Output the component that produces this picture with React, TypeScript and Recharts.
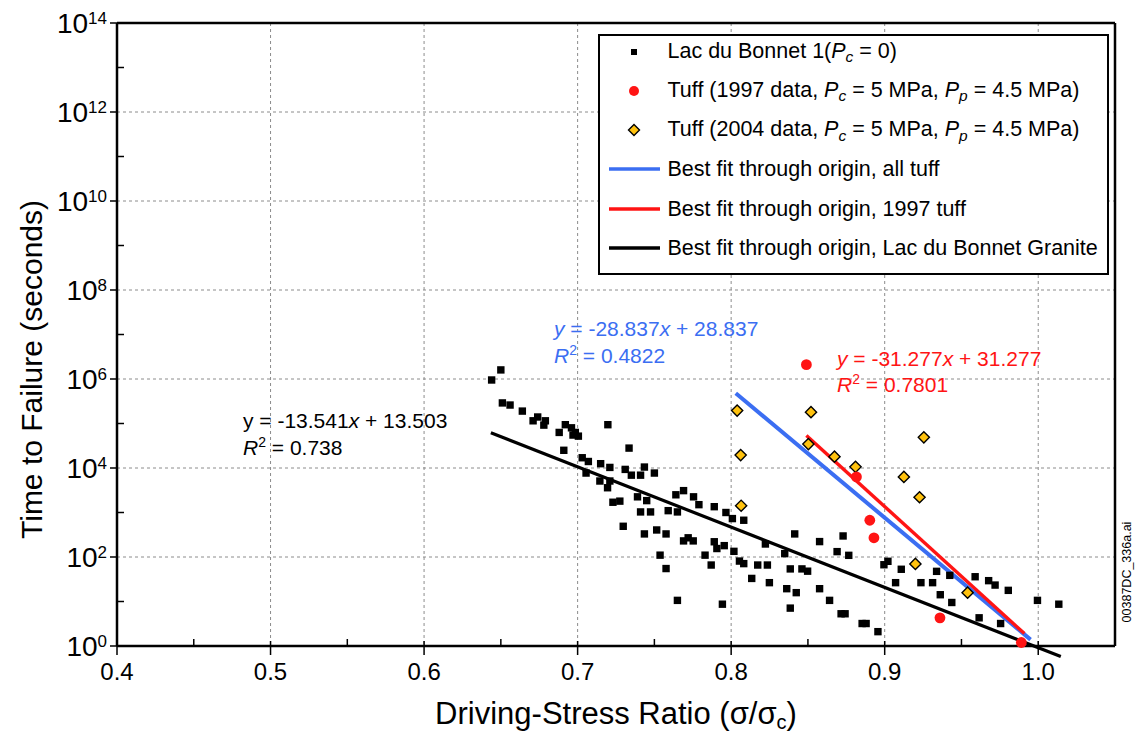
import React from 'react';
import {
  ComposedChart,
  Scatter,
  XAxis,
  YAxis,
  CartesianGrid,
  ReferenceLine,
  Legend,
} from 'recharts';

const FONT = '"Liberation Sans", Arial, Helvetica, sans-serif';
const BLUE = '#3b6ef2';
const RED = '#ff1414';
const GOLD = '#ffc20e';

// axis ticks
const xMajor = [0.4, 0.5, 0.6, 0.7, 0.8, 0.9, 1.0];
const xTicks = [0.4, 0.45, 0.5, 0.55, 0.6, 0.65, 0.7, 0.75, 0.8, 0.85, 0.9, 0.95, 1.0, 1.05];
const xGrid = [0.5, 0.6, 0.7, 0.8, 0.9, 1.0];
const yTicks = [1, 1e1, 1e2, 1e3, 1e4, 1e5, 1e6, 1e7, 1e8, 1e9, 1e10, 1e11, 1e12, 1e13, 1e14];
const yGrid = [1e2, 1e4, 1e6, 1e8, 1e10, 1e12];
const xMax = 1.05;
const yMax = 1e14;

// Lac du Bonnet granite, Pc = 0  [stress ratio, seconds]
const lacDuBonnet: [number, number][] = [
  [0.644, 9.5e5], [0.650, 1.6e6], [0.651, 2.9e5], [0.656, 2.6e5], [0.664, 1.9e5],
  [0.671, 1.15e5], [0.674, 1.4e5], [0.678, 9.2e4], [0.679, 1.15e5], [0.688, 6.3e4],
  [0.691, 2.5e4], [0.692, 9.4e4], [0.696, 8.0e4], [0.697, 5.5e4], [0.6985, 6.3e4],
  [0.7005, 5.2e4], [0.703, 1.7e4], [0.7055, 7.7e3], [0.707, 1.4e4], [0.7145, 5.1e3],
  [0.715, 1.25e4], [0.7195, 3.6e3], [0.7197, 9.4e4], [0.721, 1.03e4], [0.721, 5.1e3],
  [0.723, 1.7e3], [0.7275, 1.8e3], [0.7297, 490], [0.731, 9.3e3], [0.7335, 2.8e4],
  [0.735, 6.9e3], [0.739, 2.25e3], [0.741, 6.9e3], [0.741, 1.03e3], [0.7435, 1.05e4],
  [0.7435, 330], [0.745, 1.85e3], [0.7475, 1.03e3], [0.750, 7.7e3], [0.7515, 405],
  [0.7537, 110], [0.7576, 330], [0.7576, 55], [0.759, 1.1e3], [0.764, 2.5e3],
  [0.765, 1.03e3], [0.765, 10.6], [0.769, 3.1e3], [0.769, 230], [0.772, 270],
  [0.7753, 230], [0.7755, 2.25e3], [0.779, 1.5e3], [0.783, 110], [0.787, 66],
  [0.789, 1.35e3], [0.789, 220], [0.7907, 155], [0.7943, 8.7], [0.7955, 180],
  [0.7966, 1.0e3], [0.8008, 730], [0.8018, 134], [0.8054, 81], [0.8082, 670],
  [0.8082, 71], [0.8134, 33], [0.8173, 66], [0.8223, 196], [0.8236, 66],
  [0.8249, 26.5], [0.8349, 119], [0.8362, 19.4], [0.8385, 54], [0.8385, 7.1],
  [0.8414, 330], [0.8424, 15.8], [0.8461, 54], [0.8498, 48], [0.8576, 222],
  [0.8576, 19.4], [0.8641, 10.6], [0.869, 132], [0.8716, 5.3], [0.8729, 297],
  [0.8742, 5.3], [0.8766, 109], [0.8853, 3.2], [0.8879, 3.2], [0.8956, 2.1],
  [0.8995, 67], [0.9021, 80], [0.9071, 26.5], [0.9108, 53], [0.9236, 26.5],
  [0.9312, 26.5], [0.9338, 47.6], [0.9362, 14.2], [0.9424, 38.7], [0.9437, 9.5],
  [0.9589, 36], [0.9615, 4.3], [0.9677, 29.4], [0.9719, 23.4], [0.9755, 3.2],
  [0.9805, 17.8], [0.9995, 10.6], [1.0134, 8.7],
];

// Tuff, 1997 data
const tuff1997: [number, number][] = [
  [0.849, 2.1e6], [0.8816, 6.3e3], [0.8903, 670], [0.893, 270], [0.936, 4.3], [0.989, 1.2],
];

// Tuff, 2004 data
const tuff2004: [number, number][] = [
  [0.8039, 1.95e5], [0.8062, 1.95e4], [0.8065, 1.42e3], [0.852, 1.8e5], [0.8503, 3.45e4],
  [0.8673, 1.8e4], [0.881, 1.06e4], [0.9125, 6.3e3], [0.9227, 2.2e3], [0.9255, 4.9e4],
  [0.920, 70], [0.954, 15.8],
];

// best-fit line end points
const fitAllTuff: [number, number][] = [[0.803, 4.8e5], [0.995, 1.39]];
const fitTuff1997: [number, number][] = [[0.849, 5.4e4], [0.991, 1.9]];
const fitGranite: [number, number][] = [[0.6435, 6.2e4], [1.0147, 0.58]];

const toPoints = (arr: [number, number][]) => arr.map(([x, y]) => ({ x, y }));

function SquareDot(props: any) {
  const { cx, cy } = props;
  return <rect x={cx - 3.7} y={cy - 3.7} width={7.4} height={7.4} fill="#000" />;
}

function RedDot(props: any) {
  const { cx, cy } = props;
  return <circle cx={cx} cy={cy} r={5.4} fill={RED} />;
}

function DiamondDot(props: any) {
  const { cx, cy } = props;
  const r = 5.6;
  return (
    <path
      d={`M${cx},${cy - r}L${cx + r},${cy}L${cx},${cy + r}L${cx - r},${cy}Z`}
      fill={GOLD}
      stroke="#000"
      strokeWidth={1.4}
    />
  );
}

function BottomTick(props: any) {
  const { x, y, payload } = props;
  const v: number = payload.value;
  const major = xMajor.some((m) => Math.abs(m - v) < 1e-9);
  if (!major) {
    return <line x1={x} x2={x} y1={y} y2={y - 7} stroke="#000" strokeWidth={1.5} />;
  }
  return (
    <g>
      <line x1={x} x2={x} y1={y - 5} y2={y + 9} stroke="#000" strokeWidth={1.5} />
      <text x={x} y={y + 34} textAnchor="middle" fontSize={24} fontFamily={FONT} fill="#000">
        {v.toFixed(1)}
      </text>
    </g>
  );
}

function LeftTick(props: any) {
  const { x, y, payload } = props;
  const exp = Math.round(Math.log10(payload.value));
  if (exp % 2 === 1) {
    return <line x1={x} x2={x + 7} y1={y} y2={y} stroke="#000" strokeWidth={1.5} />;
  }
  return (
    <g>
      <line x1={x - 7} x2={x} y1={y} y2={y} stroke="#000" strokeWidth={1.5} />
      <text x={x - 10} y={y + 10} textAnchor="end" fontFamily={FONT} fill="#000">
        <tspan fontSize={28}>10</tspan>
        <tspan fontSize={17} dy={-9}>{exp}</tspan>
      </text>
    </g>
  );
}

function RightTick(props: any) {
  const { x, y } = props;
  return <line x1={x - 7} x2={x} y1={y} y2={y} stroke="#000" strokeWidth={1.5} />;
}

function TopTick(props: any) {
  const { x, y } = props;
  return <line x1={x} x2={x} y1={y} y2={y + 7} stroke="#000" strokeWidth={1.5} />;
}

function XTitle(props: any) {
  const vb = props.viewBox;
  return (
    <text x={vb.x + vb.width / 2} y={vb.y + 78} textAnchor="middle" fontSize={31} fontFamily={FONT} fill="#000">
      Driving-Stress Ratio (σ/σ<tspan fontSize={20} dy={5}>c</tspan><tspan dy={-5}>)</tspan>
    </text>
  );
}

function YTitle(props: any) {
  const vb = props.viewBox;
  const cx = 42;
  const cy = vb.y + vb.height / 2 + 35;
  return (
    <text
      x={cx}
      y={cy}
      transform={`rotate(-90 ${cx} ${cy})`}
      textAnchor="middle"
      fontSize={30}
      fontFamily={FONT}
      fill="#000"
    >
      Time to Failure (seconds)
    </text>
  );
}

const Pc = (
  <>
    <i>P</i>
    <i style={{ fontSize: '0.72em', position: 'relative', top: '0.3em' }}>c</i>
  </>
);
const Pp = (
  <>
    <i>P</i>
    <i style={{ fontSize: '0.72em', position: 'relative', top: '0.3em' }}>p</i>
  </>
);

const legendRows: { key: string; label: React.ReactNode }[] = [
  { key: 'ldb', label: <>Lac du Bonnet 1({Pc} = 0)</> },
  { key: 't97', label: <>Tuff (1997 data, {Pc} = 5 MPa, {Pp} = 4.5 MPa)</> },
  { key: 't04', label: <>Tuff (2004 data, {Pc} = 5 MPa, {Pp} = 4.5 MPa)</> },
  { key: 'fitAll', label: 'Best fit through origin, all tuff' },
  { key: 'fit97', label: 'Best fit through origin, 1997 tuff' },
  { key: 'fitLdb', label: 'Best fit through origin, Lac du Bonnet Granite' },
];

function LegendMarker({ kind }: { kind: string }) {
  return (
    <svg width={58} height={20} style={{ display: 'block' }}>
      {kind === 'ldb' && <rect x={24} y={7} width={6} height={6} fill="#000" />}
      {kind === 't97' && <circle cx={27} cy={10} r={5} fill={RED} />}
      {kind === 't04' && (
        <path d="M27,4.5L32.5,10L27,15.5L21.5,10Z" fill={GOLD} stroke="#000" strokeWidth={1.4} />
      )}
      {kind === 'fitAll' && <line x1={2} x2={53} y1={10} y2={10} stroke={BLUE} strokeWidth={3.5} />}
      {kind === 'fit97' && <line x1={2} x2={53} y1={10} y2={10} stroke={RED} strokeWidth={3.5} />}
      {kind === 'fitLdb' && <line x1={2} x2={53} y1={10} y2={10} stroke="#000" strokeWidth={3.5} />}
    </svg>
  );
}

function LegendBox() {
  return (
    <div
      style={{
        position: 'relative',
        width: 511,
        height: 241,
        boxSizing: 'border-box',
        border: '2px solid #000',
        background: '#fff',
        fontFamily: FONT,
        fontSize: 21.5,
        color: '#000',
      }}
    >
      {legendRows.map((row, i) => (
        <div
          key={row.key}
          style={{
            position: 'absolute',
            left: 6.5,
            top: 15.5 + 39.3 * i - 15,
            height: 30,
            display: 'flex',
            alignItems: 'center',
            whiteSpace: 'nowrap',
          }}
        >
          <LegendMarker kind={row.key} />
          <span style={{ marginLeft: 3, lineHeight: '30px' }}>{row.label}</span>
        </div>
      ))}
    </div>
  );
}

export default function App() {
  return (
    <div style={{ position: 'absolute', left: 0, top: 0, width: 1135, height: 735, background: '#fff' }}>
      <ComposedChart width={1135} height={735} margin={{ top: 23, right: 20, left: 0, bottom: 0 }}>
        <CartesianGrid xAxisId="t" yAxisId="r" stroke="#8c8c8c" strokeDasharray="3 3" />
        <XAxis
          xAxisId="b"
          dataKey="x"
          type="number"
          domain={[0.4, xMax]}
          ticks={xTicks}
          interval={0}
          height={89}
          tickSize={0}
          tickMargin={0}
          tickLine={false}
          tick={<BottomTick />}
          axisLine={{ stroke: '#000', strokeWidth: 2.5 }}
          label={(p: any) => <XTitle {...p} />}
        />
        <XAxis
          xAxisId="t"
          orientation="top"
          dataKey="x"
          type="number"
          domain={[0.4, xMax]}
          ticks={xGrid}
          interval={0}
          height={0}
          tickSize={0}
          tickMargin={0}
          tickLine={false}
          tick={<TopTick />}
          axisLine={{ stroke: '#000', strokeWidth: 2.5 }}
        />
        <YAxis
          yAxisId="l"
          dataKey="y"
          type="number"
          scale="log"
          domain={[1, yMax]}
          ticks={yTicks}
          interval={0}
          width={117}
          tickSize={0}
          tickMargin={0}
          tickLine={false}
          tick={<LeftTick />}
          axisLine={{ stroke: '#000', strokeWidth: 2.5 }}
          label={(p: any) => <YTitle {...p} />}
        />
        <YAxis
          yAxisId="r"
          orientation="right"
          dataKey="y"
          type="number"
          scale="log"
          domain={[1, yMax]}
          ticks={yGrid}
          interval={0}
          width={0}
          tickSize={0}
          tickMargin={0}
          tickLine={false}
          tick={<RightTick />}
          axisLine={{ stroke: '#000', strokeWidth: 2.5 }}
        />
        {/* solid frame on the top and right edges */}
        <ReferenceLine xAxisId="b" yAxisId="l" y={yMax} stroke="#000" strokeWidth={2.5} ifOverflow="visible" />
        <ReferenceLine xAxisId="b" yAxisId="l" x={xMax} stroke="#000" strokeWidth={2.5} ifOverflow="visible" />
        <Scatter
          name="Lac du Bonnet 1"
          data={toPoints(lacDuBonnet)}
          xAxisId="b"
          yAxisId="l"
          shape={<SquareDot />}
          isAnimationActive={false}
        />
        {/* the mirrored top/right axes share the same domains, so the tuff series sit on them */}
        <Scatter
          name="Tuff 2004"
          data={toPoints(tuff2004)}
          xAxisId="t"
          yAxisId="r"
          shape={<DiamondDot />}
          isAnimationActive={false}
        />
        <Scatter
          name="Tuff 1997"
          data={toPoints(tuff1997)}
          xAxisId="t"
          yAxisId="r"
          shape={<RedDot />}
          isAnimationActive={false}
        />
        <ReferenceLine
          xAxisId="b"
          yAxisId="l"
          segment={toPoints(fitGranite)}
          stroke="#000"
          strokeWidth={3.2}
          ifOverflow="visible"
        />
        <ReferenceLine
          xAxisId="b"
          yAxisId="l"
          segment={toPoints(fitAllTuff)}
          stroke={BLUE}
          strokeWidth={4}
          ifOverflow="visible"
        />
        <ReferenceLine
          xAxisId="b"
          yAxisId="l"
          segment={toPoints(fitTuff1997)}
          stroke={RED}
          strokeWidth={3.4}
          ifOverflow="visible"
        />
        <Legend
          layout="vertical"
          align="center"
          verticalAlign="middle"
          content={() => <LegendBox />}
          wrapperStyle={{ left: 598, top: 34, width: 511, height: 241 }}
        />
      </ComposedChart>
      <svg
        width={1135}
        height={735}
        style={{ position: 'absolute', left: 0, top: 0, pointerEvents: 'none' }}
        fontFamily={FONT}
        fontSize={21}
      >
        <text x={554} y={336} fill={BLUE}>
          <tspan fontStyle="italic">y</tspan> = -28.837<tspan fontStyle="italic">x</tspan> + 28.837
        </text>
        <text x={554} y={363} fill={BLUE}>
          <tspan fontStyle="italic">R</tspan><tspan fontSize={14} dy={-8}>2</tspan><tspan dy={8}> = 0.4822</tspan>
        </text>
        <text x={837} y={366} fill={RED}>
          <tspan fontStyle="italic">y</tspan> = -31.277<tspan fontStyle="italic">x</tspan> + 31.277
        </text>
        <text x={837} y={392} fill={RED}>
          <tspan fontStyle="italic">R</tspan><tspan fontSize={14} dy={-8}>2</tspan><tspan dy={8}> = 0.7801</tspan>
        </text>
        <text x={243} y={428} fill="#000">
          y = -13.541<tspan fontStyle="italic">x</tspan> + 13.503
        </text>
        <text x={243} y={455} fill="#000">
          <tspan fontStyle="italic">R</tspan><tspan fontSize={14} dy={-8}>2</tspan><tspan dy={8}> = 0.738</tspan>
        </text>
        <text
          x={1131}
          y={572}
          transform="rotate(-90 1131 572)"
          textAnchor="middle"
          fontSize={12.5}
          fill="#000"
        >
          00387DC_336a.ai
        </text>
      </svg>
    </div>
  );
}
